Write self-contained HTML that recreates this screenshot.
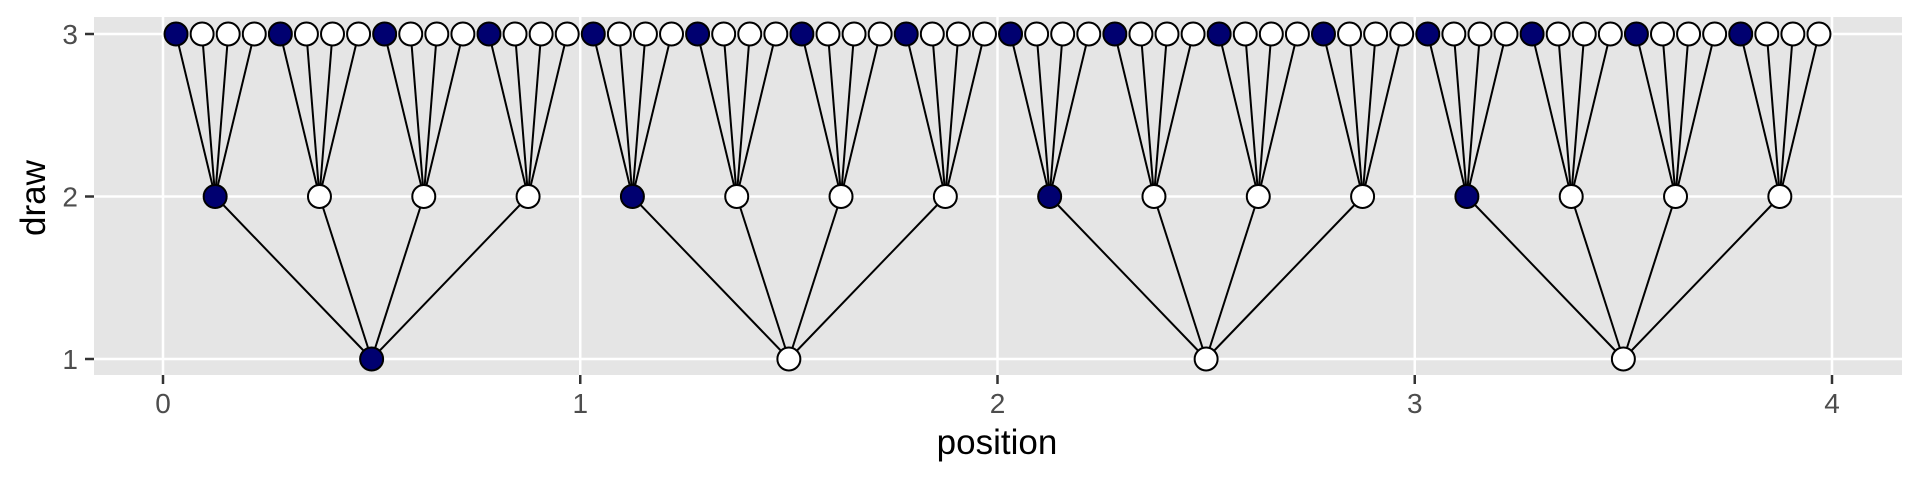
<!DOCTYPE html>
<html><head><meta charset="utf-8"><style>
html,body{margin:0;padding:0;background:#fff;}
svg{display:block;font-family:"Liberation Sans",Arial,sans-serif;}
</style></head><body>
<svg id="s" width="1920" height="480" xmlns="http://www.w3.org/2000/svg">
<rect x="0" y="0" width="1920" height="480" fill="#fff"/>
<rect x="94" y="17" width="1808" height="358" fill="#e5e5e5"/>
<g stroke="#fff" stroke-width="2.5">
<line x1="94" x2="1902" y1="34" y2="34"/>
<line x1="94" x2="1902" y1="196.5" y2="196.5"/>
<line x1="94" x2="1902" y1="359" y2="359"/>
<line x1="163" x2="163" y1="17" y2="375"/>
<line x1="580.25" x2="580.25" y1="17" y2="375"/>
<line x1="997.5" x2="997.5" y1="17" y2="375"/>
<line x1="1414.75" x2="1414.75" y1="17" y2="375"/>
<line x1="1832" x2="1832" y1="17" y2="375"/>
</g>
<g stroke="#333" stroke-width="2.5">
<line x1="85" x2="94" y1="34" y2="34"/>
<line x1="85" x2="94" y1="196.5" y2="196.5"/>
<line x1="85" x2="94" y1="359" y2="359"/>
<line x1="163" x2="163" y1="375" y2="384"/>
<line x1="580.25" x2="580.25" y1="375" y2="384"/>
<line x1="997.5" x2="997.5" y1="375" y2="384"/>
<line x1="1414.75" x2="1414.75" y1="375" y2="384"/>
<line x1="1832" x2="1832" y1="375" y2="384"/>
</g>
<g fill="#4d4d4d" font-size="28" text-anchor="end">
<text x="78" y="44">3</text>
<text x="78" y="206.5">2</text>
<text x="78" y="369">1</text>
</g>
<g fill="#4d4d4d" font-size="28" text-anchor="middle">
<text x="163" y="413">0</text>
<text x="580.25" y="413">1</text>
<text x="997.5" y="413">2</text>
<text x="1414.75" y="413">3</text>
<text x="1832" y="413">4</text>
</g>
<text x="997" y="454" font-size="35" text-anchor="middle" fill="#000">position</text>
<text transform="translate(45,198) rotate(-90)" font-size="35" text-anchor="middle" fill="#000">draw</text>
<g id="g"></g>
</svg>
<script>
var X=function(v){return 163+v*417.25;};
var Y={3:34,2:196.5,1:359};
var ns="http://www.w3.org/2000/svg",g=document.getElementById("g"),h="";
for(var i=0;i<64;i++){var j=Math.floor(i/4);h+='<line x1="'+X((i+.5)/16)+'" y1="34" x2="'+X((j+.5)/4)+'" y2="196.5" stroke="#000" stroke-width="2"/>';}
for(var j=0;j<16;j++){var k=Math.floor(j/4);h+='<line x1="'+X((j+.5)/4)+'" y1="196.5" x2="'+X(k+.5)+'" y2="359" stroke="#000" stroke-width="2"/>';}
function c(x,y,f){return '<circle cx="'+x+'" cy="'+y+'" r="11.5" fill="'+(f?'#000070':'#fff')+'" stroke="#000" stroke-width="2"/>';}
for(var i=0;i<64;i++)h+=c(X((i+.5)/16),34,i%4==0);
for(var j=0;j<16;j++)h+=c(X((j+.5)/4),196.5,j%4==0);
for(var k=0;k<4;k++)h+=c(X(k+.5),359,k==0);
g.innerHTML=h;
</script>
</body></html>
